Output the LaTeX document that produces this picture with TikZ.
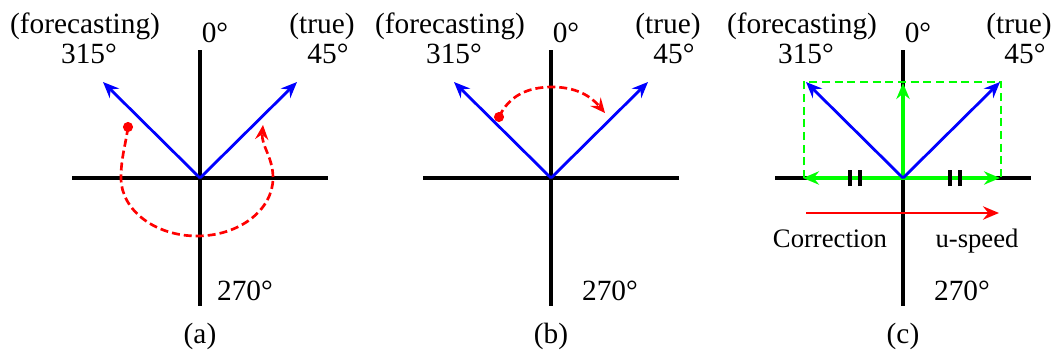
\documentclass[tikz,border=0pt]{standalone}
\usepackage{fontspec}
\setmainfont{Liberation Serif}
\usetikzlibrary{arrows.meta}

\tikzset{
  axis/.style={line width=2.8pt},
  wind/.style={blue, line width=2.1pt, -{Stealth[length=12pt,width=10pt,inset=4pt]}},
  turn/.style={red, line width=2pt, dash pattern=on 6pt off 3pt, -{Stealth[length=11pt,width=10pt,inset=4pt]}},
  comp/.style={green, line width=2.3pt, -{Stealth[length=12pt,width=10pt,inset=4pt]}},
  frame/.style={green, line width=1.5pt, dash pattern=on 6pt off 3.5pt},
  lbl/.style={font=\fontsize{22}{26}\selectfont, inner sep=0pt, anchor=base},
  small/.style={font=\fontsize{20}{24}\selectfont, inner sep=0pt, anchor=base},
}

\begin{document}
\begin{tikzpicture}[x=0.75pt,y=0.75pt]
\useasboundingbox (0,0) rectangle (1057,355);

% the three panels: axes, wind vectors, labels
\foreach \p/\cx/\lx/\rx/\dx in {a/200/85/322/245, b/551/450/668/610, c/903/802/1019/962}{
  \coordinate (o\p) at (\cx,177);
  \coordinate (n\p) at (\cx,305);
  \coordinate (s\p) at (\cx,49);
  \coordinate (w\p) at ({\cx-128},177);
  \coordinate (e\p) at ({\cx+128},177);
  \coordinate (f\p) at ({\cx-97},273);
  \coordinate (t\p) at ({\cx+97},273);
  \draw[axis] (w\p) -- (e\p);
  \draw[axis] (n\p) -- (s\p);
  \node[lbl] (fc\p) at (\lx,322) {(forecasting)};
  \node[lbl] (fd\p) at ({\lx+4},292) {315°};
  \node[lbl] (tr\p) at (\rx,322) {(true)};
  \node[lbl] (td\p) at ({\rx+6},292) {45°};
  \node[lbl] (nd\p) at ({\cx+15},313) {0°};
  \node[lbl] (sd\p) at (\dx,55) {270°};
  \node[lbl] (cap\p) at (\cx,12) {(\p)};
}

% (a) turning the long way round
\coordinate (da) at (128,228);
\coordinate (la) at (121,177);
\coordinate (ra) at (263,230);
\fill[red] (da) circle (3.8pt);
\draw[turn] (da) to[out=-98,in=90] (la)
  arc[start angle=180,end angle=360,x radius=76,y radius=58]
  to[out=90,in=-95] (ra);

% (b) turning the short way
\coordinate (db) at (499,238);
\coordinate (kb) at (552,268);
\coordinate (rb) at (605,242);
\fill[red] (db) circle (3.8pt);
\draw[turn] (db) to[out=65,in=180] (kb) to[out=0,in=130] (rb);

% (c) components
\coordinate (fbc) at (804,177);
\coordinate (ftc) at (804,273);
\coordinate (rtc) at (1001,273);
\coordinate (rbc) at (1001,177);
\coordinate (uc) at (903,272);
\coordinate (lc) at (803,177);
\coordinate (gc) at (1000,177);
\draw[frame] (fbc) -- (ftc) -- (rtc) -- (rbc);
\draw[comp] (oc) -- (uc);
\draw[comp] (oc) -- (lc);
\draw[comp] (oc) -- (gc);
\foreach \x in {850,860,950,960}{\draw[line width=2.5pt] (\x,169) -- (\x,185);}
\coordinate (cs) at (806,142);
\coordinate (ce) at (999,142);
\draw[red, line width=2pt, -{Stealth[length=12pt,width=10pt,inset=4pt]}] (cs) -- (ce);
\node[small] (corr) at (830,108) {Correction};
\node[small] (uspd) at (977,108) {u-speed};

% wind vectors on top
\foreach \p in {a,b,c}{
  \draw[wind] (o\p) -- (f\p);
  \draw[wind] (o\p) -- (t\p);
}
\end{tikzpicture}
\end{document}
